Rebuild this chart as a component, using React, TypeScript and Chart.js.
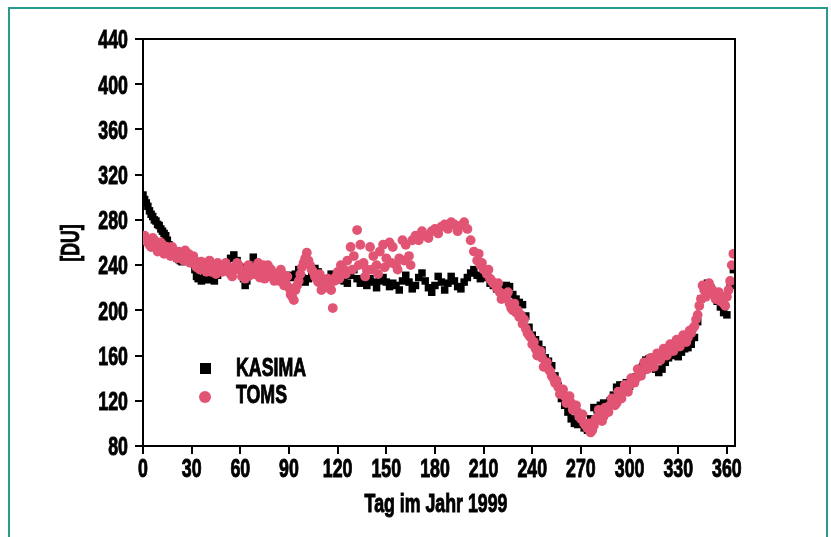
import React, { useEffect, useRef } from "react";
import { Chart, registerables } from "chart.js";

Chart.register(...registerables);

const xTickStep = 30;
const yTickStep = 40;
const xMin = 0;
const xMax = 365;
const yMin = 80;
const yMax = 440;

const xTitle = "Tag im Jahr 1999";
const yTitle = "[DU]";
const seriesNames = ["KASIMA", "TOMS"];

const kasimaDays = [
  0, 1, 2, 3, 4, 5, 6, 7, 8, 9, 10, 11, 12, 13, 14, 15, 16, 17, 18, 19, 20, 21, 22, 23, 24, 26, 28, 30,
  32, 33, 34, 36, 38, 40, 42, 44, 46, 48, 50, 52, 54, 56, 58, 60, 62, 63, 64, 66, 68, 70,
  72, 74, 76, 78, 80, 82, 84, 86, 88, 90, 92, 94, 96, 98, 100, 102, 104, 106, 108, 110,
  112, 114, 116, 118, 120, 122, 124, 126, 128, 130, 132, 134, 136, 138, 140, 142, 144, 146, 148, 150,
  152, 154, 156, 158, 160, 162, 164, 166, 168, 170, 172, 174, 176, 178, 180, 182, 184, 186, 188, 190,
  192, 194, 196, 198, 200, 202, 204, 206, 208, 210, 212, 214, 216, 218, 220, 222, 224, 226, 228, 230,
  232, 234, 236, 238, 240, 242, 244, 246, 248, 250, 252, 254, 256, 258, 260, 262, 264, 266, 268, 270,
  272, 274, 276, 278, 280, 282, 284, 286, 288, 290, 292, 294, 296, 298, 300, 302, 304, 306, 308, 310,
  312, 314, 316, 318, 320, 322, 324, 326, 328, 330, 332, 334, 336, 338, 340, 342, 344, 346, 348, 350,
  352, 354, 356, 358, 360, 362, 364,
];
const kasimaValues = [
  302, 298, 295, 292, 288, 285, 283, 280, 279, 276, 275, 272, 270, 268, 266, 262, 258, 256, 252, 250, 248, 246, 245, 244, 243, 244, 244, 242,
  236, 230, 228, 226, 229, 227, 230, 226, 231, 234, 236, 240, 246, 249, 244, 238, 228, 222, 226, 240, 247, 241,
  236, 232, 234, 237, 232, 228, 233, 230, 226, 231, 229, 232, 236, 229, 225, 228, 231, 237, 234, 228,
  221, 225, 232, 229, 227, 230, 226, 224, 231, 236, 228, 224, 226, 222, 228, 225, 220, 226, 229, 225,
  221, 224, 222, 218, 226, 231, 225, 219, 222, 229, 233, 226, 220, 216, 222, 230, 225, 218, 224, 230,
  226, 221, 219, 225, 229, 233, 236, 231, 228, 232, 229, 224, 222, 219, 221, 218, 222, 221, 214, 210,
  207, 205, 195, 185, 178, 174, 170, 165, 158, 155, 151, 142, 133, 122, 116, 110, 104, 100, 99, 100,
  96, 94, 104, 114, 112, 116, 118, 114, 120, 125, 132, 134, 134, 136, 133, 138, 141, 144, 150, 156,
  157, 152, 148, 145, 148, 154, 158, 160, 163, 159, 163, 166, 167, 170, 176, 190, 210, 222, 224, 220,
  214, 208, 203, 198, 196, 222, 236,
];

const tomsDays = [
  0, 1, 2, 3, 4, 5, 6, 7, 8, 9, 10, 11, 12, 13, 14, 15, 16, 17, 18, 19, 20, 21, 22, 23, 24, 25, 26, 27, 28, 29, 30,
  31, 32, 33, 34, 35, 36, 37, 38, 39, 40, 41, 42, 43, 44, 45, 46, 47, 48, 49, 50, 51, 52, 53, 54, 55, 56, 57, 58, 59, 60,
  61, 62, 63, 64, 65, 66, 67, 68, 69, 70, 71, 72, 73, 74, 75, 76, 77, 78, 79, 80, 81, 82, 83, 84, 85, 86, 87, 88, 89, 90,
  91, 92, 93, 94, 95, 96, 97, 98, 99, 100, 101, 102, 103, 104, 105, 106, 107, 108, 109, 110, 111, 112, 113, 114, 115, 116, 117, 118, 119, 120,
  121, 122, 124, 125, 126, 128, 129, 130, 132, 133, 134, 136, 137, 138, 140, 141, 142, 144, 145, 146, 148, 149, 150,
  152, 153, 154, 156, 157, 158, 160, 161, 162, 164, 165, 166, 168, 170, 172, 174, 176, 178, 180,
  182, 184, 186, 188, 190, 192, 194, 196, 198, 200, 202, 204, 206, 207, 208, 209, 210, 212, 213, 214, 215, 216, 218, 219, 220,
  221, 222, 224, 225, 226, 227, 228, 230, 232, 234, 236, 238, 240, 242, 244, 246, 248, 250, 252, 254, 256, 258, 260,
  262, 264, 266, 268, 270, 272, 274, 276, 278, 280, 282, 284, 286, 288, 290, 292, 294, 296, 298, 300,
  302, 304, 306, 308, 310, 312, 314, 316, 318, 320, 322, 324, 326, 328, 330, 332, 334, 336, 338, 340,
  342, 344, 346, 348, 350, 352, 354, 356, 358, 360, 362, 364,
  229, 231, 233, 235, 237, 239, 241, 243, 245, 247, 249, 251, 253, 255, 257, 259, 261, 263, 265, 267,
  269, 271, 273, 275, 277, 279, 281, 283, 285, 287, 289, 291, 293, 295, 297, 299, 301, 303, 305, 307,
  309, 311, 313, 315, 317, 319, 321, 323, 325, 327, 329, 331, 333, 335, 337, 339, 341, 343, 345, 347,
  349, 351, 353, 355, 357, 359, 361, 363,
];
const tomsValues = [
  262, 266, 262, 260, 258, 256, 264, 262, 260, 252, 256, 260, 258, 250, 254, 256, 252, 248, 256, 252, 250, 246, 252, 250, 248, 244, 253, 248, 250, 242, 246,
  248, 244, 238, 240, 236, 243, 240, 237, 234, 240, 244, 234, 238, 238, 232, 242, 240, 236, 234, 240, 242, 236, 238, 232, 230, 238, 236, 242, 240, 236,
  230, 232, 228, 236, 240, 231, 236, 238, 232, 235, 242, 229, 234, 240, 228, 236, 240, 230, 236, 233, 226, 228, 232, 226, 236, 232, 222, 224, 230, 220,
  214, 212, 209, 218, 222, 226, 232, 238, 242, 246, 251, 244, 240, 236, 234, 230, 228, 225, 232, 218, 224, 220, 226, 228, 222, 218, 202, 226, 230, 234,
  228, 240, 236, 232, 244, 256, 236, 248, 271, 240, 258, 242, 230, 236, 256, 236, 248, 240, 232, 252, 258, 238, 246,
  260, 242, 256, 240, 236, 246, 262, 244, 258, 248, 240, 262, 266, 262, 270, 266, 264, 270, 272,
  268, 274, 276, 272, 278, 276, 270, 275, 278, 272, 262, 252, 244, 250, 240, 242, 236, 232, 236, 228, 226, 224, 220, 224, 216,
  210, 214, 212, 216, 206, 202, 200, 198, 194, 188, 184, 178, 170, 166, 162, 158, 152, 148, 142, 136, 132, 128, 124,
  122, 118, 114, 110, 104, 100, 96, 92, 98, 104, 108, 106, 112, 116, 120, 118, 124, 128, 130, 134,
  138, 140, 144, 146, 150, 152, 154, 156, 158, 160, 162, 164, 166, 168, 170, 172, 174, 176, 180, 186,
  196, 210, 218, 216, 220, 214, 212, 208, 206, 212, 226, 250,
  206, 200, 196, 192, 180, 176, 172, 160, 164, 150, 154, 146, 140, 138, 126, 130, 118, 124, 112, 116,
  106, 108, 98, 100, 94, 104, 112, 102, 114, 110, 122, 116, 128, 122, 134, 128, 140, 136, 148, 142,
  154, 148, 158, 150, 162, 156, 166, 160, 170, 164, 174, 168, 178, 172, 182, 184, 192, 204, 222, 212,
  224, 218, 210, 216, 212, 204, 218, 240,
];

const kasimaColor = "#000000";
const tomsColor = "rgb(226, 84, 116)";
const fontFamily = "'Liberation Sans', Arial, sans-serif";
const fontSize = 24;
const squeezeX = 0.74;
const stretchY = 1.1;

function drawNarrow(ctx: any, text: string, x: number, y: number, align: string, rotate = 0) {
  ctx.save();
  ctx.translate(x, y);
  if (rotate) ctx.rotate(rotate);
  ctx.scale(squeezeX, stretchY);
  ctx.textAlign = align;
  ctx.textBaseline = "middle";
  ctx.lineWidth = 0.9;
  ctx.strokeStyle = ctx.fillStyle;
  ctx.strokeText(text, 0, 0);
  ctx.fillText(text, 0, 0);
  ctx.restore();
}

const decorPlugin = {
  id: "decor",
  afterDraw(chart: any) {
    const { ctx, chartArea, scales } = chart;
    ctx.save();
    ctx.strokeStyle = "#000";
    ctx.lineWidth = 2;
    ctx.beginPath();
    ctx.moveTo(chartArea.left, chartArea.top);
    ctx.lineTo(chartArea.right, chartArea.top);
    ctx.lineTo(chartArea.right, chartArea.bottom);
    ctx.stroke();

    ctx.fillStyle = "#000";
    ctx.font = `bold ${fontSize}px ${fontFamily}`;

    // tick labels
    scales.y.ticks.forEach((t: any) => {
      const py = scales.y.getPixelForValue(t.value);
      drawNarrow(ctx, String(t.value), chartArea.left - 15, py + 2, "right");
    });
    scales.x.ticks.forEach((t: any) => {
      const px = scales.x.getPixelForValue(t.value);
      drawNarrow(ctx, String(t.value), px, chartArea.bottom + 24, "center");
    });

    // axis titles
    drawNarrow(ctx, xTitle, 436, 505, "center");
    drawNarrow(ctx, yTitle, 72, 243, "center", -Math.PI / 2);

    // legend
    ctx.fillStyle = kasimaColor;
    ctx.fillRect(200, 363, 11, 11);
    ctx.fillStyle = tomsColor;
    ctx.beginPath();
    ctx.arc(205, 397, 6, 0, Math.PI * 2);
    ctx.fill();
    ctx.fillStyle = "#000";
    drawNarrow(ctx, seriesNames[0], 236, 369, "left");
    drawNarrow(ctx, seriesNames[1], 236, 396, "left");
    ctx.restore();
  },
};

export default function App() {
  const canvasRef = useRef<HTMLCanvasElement | null>(null);

  useEffect(() => {
    const canvas = canvasRef.current;
    if (!canvas) return;
    const kasimaData = kasimaDays.map((d, i) => ({ x: d, y: kasimaValues[i] }));
    const tomsData = tomsDays.map((d, i) => ({ x: d, y: tomsValues[i] }));
    const chart = new Chart(canvas, {
      type: "scatter",
      data: {
        datasets: [
          {
            label: seriesNames[0],
            data: kasimaData,
            pointStyle: "rect",
            pointRadius: 5.3,
            backgroundColor: kasimaColor,
            borderColor: kasimaColor,
            borderWidth: 0,
            order: 1,
          },
          {
            label: seriesNames[1],
            data: tomsData,
            pointStyle: "circle",
            pointRadius: 4.9,
            backgroundColor: tomsColor,
            borderColor: tomsColor,
            borderWidth: 0,
            order: 0,
          },
        ],
      },
      options: {
        responsive: false,
        animation: false,
        layout: { padding: { top: 39, right: 96, left: 0, bottom: 0 } },
        plugins: {
          legend: { display: false },
          tooltip: { enabled: false },
        },
        scales: {
          x: {
            type: "linear",
            min: xMin,
            max: xMax,
            afterFit: (scale: any) => {
              scale.height = 91;
            },
            ticks: {
              display: false,
              stepSize: xTickStep,
              includeBounds: false,
              autoSkip: false,
            },
            grid: {
              drawOnChartArea: false,
              drawTicks: true,
              tickLength: 8,
              color: "#000",
              lineWidth: 2,
            },
            border: { display: true, color: "#000", width: 2 },
          },
          y: {
            type: "linear",
            min: yMin,
            max: yMax,
            afterFit: (scale: any) => {
              scale.width = 143;
            },
            ticks: {
              display: false,
              stepSize: yTickStep,
              autoSkip: false,
            },
            grid: {
              drawOnChartArea: false,
              drawTicks: true,
              tickLength: 8,
              color: "#000",
              lineWidth: 2,
            },
            border: { display: true, color: "#000", width: 2 },
          },
        },
      },
      plugins: [decorPlugin],
    });
    return () => chart.destroy();
  }, []);

  return (
    <div style={{ position: "fixed", left: 0, top: 0, width: 831, height: 537, overflow: "hidden", background: "#fff" }}>
      <canvas ref={canvasRef} width={831} height={537} style={{ position: "absolute", left: 0, top: 0, width: 831, height: 537 }} />
      <div
        style={{
          position: "absolute",
          left: 8,
          top: 7,
          width: 820,
          height: 540,
          border: "2px solid #2b9a8e",
          boxSizing: "border-box",
          pointerEvents: "none",
        }}
      />
    </div>
  );
}
